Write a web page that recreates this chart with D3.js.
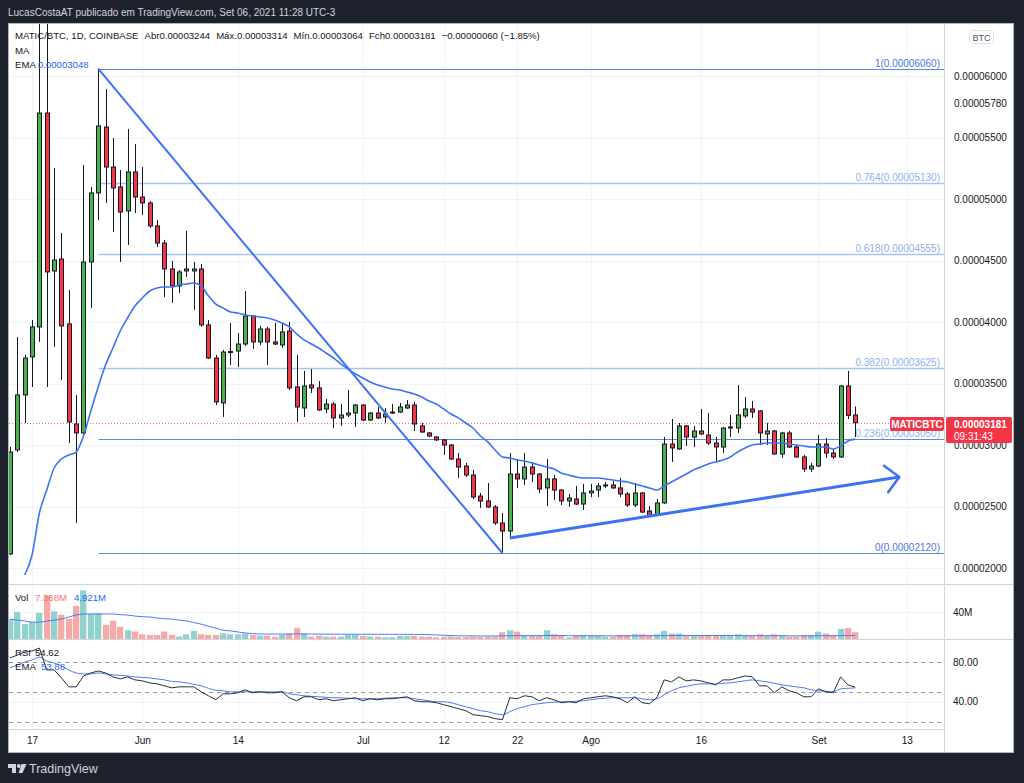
<!DOCTYPE html>
<html lang="pt">
<head>
<meta charset="UTF-8">
<title>MATIC/BTC</title>
<script src="https://d3js.org/d3.v7.min.js"></script>
<style>
  html, body { margin: 0; padding: 0; background: #1e222d; }
  svg { display: block; font-family: "Liberation Sans", Arial, sans-serif; }
</style>
</head>
<body>
<svg id="chart" width="1024" height="783"></svg>
<script>
// daily candles from 2021-05-14 to 2021-09-06, prices in satoshi (1e-8 BTC)
const startDay = Date.UTC(2021, 4, 14);
const open = [2114,2960,3407,3716,3960,5699,4415,4512,3984,3171,
  3098,4488,5049,5585,5260,5098,4903,5220,5016,4968,
  4781,4642,4431,4293,4415,4415,4431,3976,3707,3342,
  3756,3764,3821,4049,3838,3943,3838,3813,3927,3472,
  3301,3488,3464,3293,3333,3220,3244,3260,3325,3203,
  3260,3228,3260,3268,3301,3325,3155,3098,3065,3041,
  3000,2886,2829,2756,2585,2545,2496,2366,2301,2764,
  2724,2821,2764,2651,2724,2634,2545,2561,2520,2610,
  2634,2667,2675,2651,2602,2512,2610,2463,2431,2529,
  3008,2968,3155,3065,3114,3081,3016,2984,3138,3138,
  3236,3293,3277,3090,3114,2927,3098,2984,2903,2805,
  2829,3008,2935,2903,3480,3244];
const high = [2984,3878,3732,4016,6700,6700,5252,4724,4260,3407,
  5277,5098,6060,5894,5496,5236,5569,5447,5260,4984,
  4829,4667,4496,4423,4740,4488,4472,4016,3732,3773,
  3992,3911,4252,4057,3968,3960,3992,3992,4000,3732,
  3602,3618,3520,3374,3350,3333,3447,3333,3333,3268,
  3309,3301,3333,3342,3366,3350,3179,3106,3073,3049,
  3008,2935,2854,2797,2610,2691,2512,2447,2935,2886,
  2935,2862,2772,2886,2756,2642,2602,2667,2683,2683,
  2691,2699,2707,2732,2618,2691,2618,2504,2561,3065,
  3212,3179,3163,3155,3293,3260,3065,3147,3244,3488,
  3390,3358,3285,3179,3122,3106,3114,3000,2919,2854,
  3081,3057,2968,3488,3602,3314];
const low = [2106,2943,3179,3472,3838,3472,3797,3529,3016,2366,
  3073,4114,4829,4968,4732,4488,4626,4886,4870,4764,
  4610,4203,4155,4236,4366,4098,3960,3699,3325,3228,
  3650,3634,3805,3781,3813,3650,3813,3789,3447,3187,
  3228,3423,3277,3260,3138,3155,3228,3147,3195,3195,
  3211,3179,3252,3260,3293,3114,3098,3065,3033,2919,
  2878,2732,2740,2561,2488,2488,2350,2120,2252,2651,
  2675,2699,2610,2504,2553,2512,2496,2512,2472,2577,
  2577,2651,2642,2577,2496,2496,2447,2415,2423,2520,
  2862,2960,2992,2984,3081,3000,2870,2935,3065,3098,
  3220,3220,3000,3000,2919,2895,2976,2895,2781,2781,
  2821,2895,2886,2895,3211,3064];
const close = [2943,3407,3707,3960,5699,4407,4504,3968,3187,3098,
  4488,5049,5594,5260,5090,4894,5220,5016,4968,4781,
  4642,4431,4293,4407,4431,4431,3976,3707,3350,3756,
  3760,3821,4049,3838,3943,3838,3821,3919,3464,3309,
  3480,3464,3285,3333,3220,3244,3260,3325,3203,3260,
  3220,3252,3268,3309,3325,3171,3106,3073,3041,3000,
  2886,2821,2756,2577,2545,2496,2366,2301,2764,2724,
  2821,2764,2642,2724,2634,2545,2569,2520,2610,2626,
  2667,2675,2651,2602,2512,2610,2455,2423,2529,3008,
  2976,3155,3065,3114,3090,3016,2984,3138,3147,3244,
  3293,3268,3098,3114,2927,3098,2984,2903,2805,2829,
  3008,2935,2903,3480,3241,3181];
// EMA of price (first two days not drawn)
const ema = [null,null,1943,2106,2447,2634,2813,2886,2919,2943,3073,3277,
  3472,3650,3789,3927,4033,4130,4195,4252,4277,4285,
  4285,4301,4309,4317,4293,4212,4146,4114,4081,4073,
  4057,4049,4041,4033,4016,3992,3960,3903,3854,3821,
  3789,3748,3708,3659,3618,3577,3545,3512,3488,3472,
  3455,3447,3431,3415,3390,3358,3333,3293,3252,3220,
  3179,3138,3073,3025,2959,2903,2894,2878,2870,2854,
  2838,2821,2805,2773,2756,2740,2732,2732,2732,2724,
  2716,2707,2699,2683,2667,2651,2634,2667,2699,2732,
  2764,2797,2821,2846,2862,2878,2903,2943,2976,3000,
  3008,3016,3016,3016,3008,3000,2992,2984,2984,2984,
  2968,2992,3033,3048];
// volume, millions
const volume = [29.6,40,22,25,38.5,64,41,36,30,49,
  72,37,38,21,27,18,13,11,7,6,
  6,11,6,3.5,7,12,7,6,6,8.5,
  7,7,8,6,5,5,3.5,6,8,16,
  8,3.5,5,3.5,3.5,3.5,6,6,4.5,3.5,
  3.5,2.5,2.5,4.5,4.5,4.5,3.5,3.5,2.5,3.5,
  3.5,3,3,3.5,3,3.5,3.5,10,13,11,
  5,5,5,13,7,6,2.5,5,6,6,
  4.5,3.5,3.5,6,6,7,7,6,7,12,
  8,8,6,5,6,6,6,6,4.5,7,
  4.5,4.5,7,4.5,7,5,3.5,3.5,6,6,
  11,8,6,15,16,10];
const volumeMa = [29.6,28,26.7,25,25,26.5,28,29.6,32.6,35.5,
  37,37,37,37,37,36,35.5,34,33,32.6,
  31,30,29.6,28,26.7,24.5,22,19,16,13,
  12,10.4,9,8,7.4,7.4,7.3,7.3,7.4,7.6,
  7.5,7.4,7.3,7.2,7.2,7.1,7.1,7.1,7,7,
  7,6.9,6.9,6.9,6.9,6.8,6.8,6.5,6,5.5,
  5,4.8,4.7,4.6,4.5,4.5,4.5,4.6,4.8,5,
  5,5,5,5.2,5.1,5.1,5,4.9,4.9,4.8,
  4.8,4.7,4.7,4.7,4.7,4.8,4.8,4.8,4.8,5,
  5.1,5.2,5.2,5.2,5.2,5.2,5.2,5.2,5.1,5.1,
  5,5,5,4.9,4.9,4.8,4.7,4.6,4.6,4.6,
  4.7,4.8,4.8,5,5.1,4.921];
const rsi = [84,87,90,91,94,72,72,64,55,55,
  66,69,71,69,65,63,65,62,61,59,
  58,56,54,55,55,55,50,46,42,48,
  48,49,52,49,50,49,49,50,44,41,
  45,45,42,43,41,42,43,44,41,43,
  42,43,43,44,45,41,40,40,39,37,
  35,33,31,27,26,25,23,22,44,43,
  46,45,41,44,42,39,40,39,43,44,
  45,46,45,43,39,45,39,38,44,62,
  60,65,61,62,61,59,57,62,62,64,
  66,65,56,56,49,55,51,49,45,45,
  53,50,49,65,57,54.62];
const rsiEma = [74,77,80,82,85,81,79,76,72,69,
  68,68,69,68,67,66.5,66,65,64.5,64,
  63,62,60.5,60,59,57.5,56,53.5,51.5,51,
  50,50,50,50,50,50,50,50,48,47,
  46,45.5,45,44.5,44,44,43.5,43,43,43,
  43,43.5,44,44,44,43,42,41,40,40,
  39,37,35,33,31,30,28,27,30,33,
  35,37,38,39,39.5,40,40,40.5,41,42,
  43,43.5,44,44,44,44,43,42,43,47,
  51,54,55.5,57,58,58,58,58.5,59,60,
  61,62,61,60,58.5,57,56,55,54,52,
  51,50.5,50,53,53.5,53.88];

const priceTicks = [6000, 5780, 5500, 5000, 4500, 4000, 3500, 3000, 2500, 2000];
const gridPrices = [6000, 5500, 5000, 4500, 4000, 3500, 3000, 2500, 2000];
const timeTicks = ["2021-05-17","2021-06-01","2021-06-14","2021-07-01","2021-07-12","2021-07-22","2021-08-01","2021-08-16","2021-09-01","2021-09-13"];
const timeLabels = ["17","Jun","14","Jul","12","22","Ago","16","Set","13"];

const fibLevels = ["1", "0.764", "0.618", "0.382", "0.236", "0"];
const fibPrices = [6060, 5130, 4555, 3625, 3050, 2120];
const fibStart = "2021-05-26";

const downLine = [["2021-05-26", 6060], ["2021-07-20", 2120]];
const upLine = [["2021-07-21", 2244], ["2021-09-12", 2740]];

const svg = d3.select("#chart");
const day = d => new Date(d + "T00:00:00Z");
const dates = open.map((_, i) => new Date(startDay + i * 864e5));
const candles = dates.map((d, i) => ({ date: d, o: open[i], h: high[i], l: low[i], c: close[i], v: volume[i] }));

const left = 9, right = 944;
const x = d3.scaleUtc().domain([new Date(startDay), day("2021-09-13")]).range([10, 10 + 122 * 7.35]);
const y = d3.scaleLinear().domain([2000, 6000]).range([568, 76]);
const yVol = d3.scaleLinear().domain([0, 40]).range([639, 612]);
const yRsi = d3.scaleLinear().domain([20, 80]).range([721.6, 662]);
const fmtPrice = v => (v * 1e-8).toFixed(8);
const px = d => Math.round(x(d)) + 0.5;

const upColor = "#4caf50", downColor = "#f23645", blue = "#2962ff", ink = "#131722";

// frame
svg.append("text").attr("x", 8).attr("y", 16).attr("fill", "#d1d4dc").style("font-size", "10px")
  .text("LucasCostaAT publicado em TradingView.com, Set 06, 2021 11:28 UTC-3");
svg.append("rect").attr("x", 8.5).attr("y", 23.5).attr("width", 1005).attr("height", 729)
  .attr("fill", "#fff").attr("stroke", "#b2b5be");

const defs = svg.append("defs");
function clip(id, y0, h) {
  defs.append("clipPath").attr("id", id).append("rect").attr("x", left).attr("y", y0).attr("width", right - left).attr("height", h);
}
clip("cMain", 24, 560); clip("cVol", 585, 54); clip("cRsi", 640, 89);

// grid
const grid = svg.append("g").attr("stroke", "#f0f3fa").attr("stroke-width", 1);
grid.selectAll(".gx").data(timeTicks).join("line")
  .attr("x1", d => px(day(d))).attr("x2", d => px(day(d))).attr("y1", 24).attr("y2", 729);
grid.selectAll(".gy").data(gridPrices).join("line")
  .attr("x1", left).attr("x2", right).attr("y1", d => Math.round(y(d)) + 0.5).attr("y2", d => Math.round(y(d)) + 0.5);
grid.append("line").attr("x1", left).attr("x2", right).attr("y1", Math.round(yVol(40)) + 0.5).attr("y2", Math.round(yVol(40)) + 0.5);
grid.append("line").attr("x1", left).attr("x2", right).attr("y1", Math.round(yRsi(40)) + 0.5).attr("y2", Math.round(yRsi(40)) + 0.5);

// pane separators
const sep = svg.append("g").attr("stroke", "#d1d4dc").attr("stroke-width", 1);
sep.append("line").attr("x1", right + 0.5).attr("x2", right + 0.5).attr("y1", 24).attr("y2", 752);
[584.5, 639.5].forEach(v => sep.append("line").attr("x1", left).attr("x2", 1013).attr("y1", v).attr("y2", v));
sep.append("line").attr("x1", left).attr("x2", right).attr("y1", 729.5).attr("y2", 729.5);

// main pane
const main = svg.append("g").attr("clip-path", "url(#cMain)");

// fibonacci retracement
const fibStrong = [true, false, false, false, true, true];
fibPrices.forEach((p, i) => {
  const yy = Math.round(y(p)) + 0.5;
  main.append("line").attr("x1", px(day(fibStart))).attr("x2", right).attr("y1", yy).attr("y2", yy)
    .attr("stroke", fibStrong[i] ? "#5b86ee" : "#a9c3f8").attr("stroke-width", fibStrong[i] ? 1 : 1.5);
  main.append("text").attr("x", 940).attr("y", yy - 3).attr("text-anchor", "end")
    .attr("fill", (i === 0 || i === 5) ? "#4a78e0" : "#8fb0f2").style("font-size", "10px")
    .text(`${fibLevels[i]}(${fmtPrice(p)})`);
});

// last price line
const yLast = Math.round(y(close[close.length - 1])) + 0.5;
main.append("line").attr("x1", left).attr("x2", right).attr("y1", yLast).attr("y2", yLast)
  .attr("stroke", downColor).attr("stroke-dasharray", "1,2").attr("opacity", 0.7);

// candles
const cg = main.append("g");
cg.selectAll(".wick").data(candles).join("line")
  .attr("x1", d => px(d.date)).attr("x2", d => px(d.date))
  .attr("y1", d => y(d.h)).attr("y2", d => y(d.l))
  .attr("stroke", ink).attr("stroke-width", 1);
cg.selectAll(".body").data(candles).join("rect")
  .attr("x", d => px(d.date) - 2).attr("width", 4)
  .attr("y", d => y(Math.max(d.o, d.c))).attr("height", d => Math.max(1, Math.abs(y(d.o) - y(d.c))))
  .attr("fill", d => d.c >= d.o ? upColor : downColor)
  .attr("stroke", ink).attr("stroke-width", 1);

// EMA
const emaLine = d3.line().defined(d => d[1] !== null).x(d => x(d[0])).y(d => y(d[1])).curve(d3.curveMonotoneX);
main.append("path").datum(dates.map((d, i) => [d, ema[i]])).attr("d", emaLine)
  .attr("fill", "none").attr("stroke", "#3d72f5").attr("stroke-width", 1.6);

// drawn trend lines
function seg(pts) { return pts.map(p => [x(day(p[0])), y(p[1])]); }
const dl = seg(downLine), ul = seg(upLine);
main.append("line").attr("x1", dl[0][0]).attr("y1", dl[0][1]).attr("x2", dl[1][0]).attr("y2", dl[1][1])
  .attr("stroke", "#3d72f5").attr("stroke-width", 2);
main.append("line").attr("x1", ul[0][0]).attr("y1", ul[0][1]).attr("x2", ul[1][0]).attr("y2", ul[1][1])
  .attr("stroke", "#3d72f5").attr("stroke-width", 3);
const ang = Math.atan2(ul[0][1] - ul[1][1], ul[0][0] - ul[1][0]);
const arm = 19, spread = Math.PI / 4;
main.append("path")
  .attr("d", `M${ul[1][0] + arm * Math.cos(ang - spread)},${ul[1][1] + arm * Math.sin(ang - spread)}L${ul[1][0]},${ul[1][1]}L${ul[1][0] + arm * Math.cos(ang + spread)},${ul[1][1] + arm * Math.sin(ang + spread)}`)
  .attr("fill", "none").attr("stroke", "#3d72f5").attr("stroke-width", 2.5).attr("stroke-linecap", "round").attr("stroke-linejoin", "round");

// volume pane
const vol = svg.append("g").attr("clip-path", "url(#cVol)");
vol.selectAll("rect").data(candles).join("rect")
  .attr("x", d => px(d.date) - 3.5).attr("width", 6.3)
  .attr("y", d => yVol(d.v)).attr("height", d => yVol(0) - yVol(d.v))
  .attr("fill", d => d.c >= d.o ? "#92d2cc" : "#f7a9a7");
vol.append("path").datum(dates.map((d, i) => [d, volumeMa[i]]))
  .attr("d", d3.line().x(d => x(d[0])).y(d => yVol(d[1])).curve(d3.curveMonotoneX))
  .attr("fill", "none").attr("stroke", "#4a7bf7").attr("stroke-width", 1);

// RSI pane
const rp = svg.append("g").attr("clip-path", "url(#cRsi)");
[80, 50, 20].forEach(v => rp.append("line").attr("x1", left).attr("x2", right)
  .attr("y1", Math.round(yRsi(v)) + 0.5).attr("y2", Math.round(yRsi(v)) + 0.5)
  .attr("stroke", "#9598a1").attr("stroke-dasharray", "4,4"));
rp.append("path").datum(dates.map((d, i) => [d, rsiEma[i]]))
  .attr("d", d3.line().x(d => x(d[0])).y(d => yRsi(d[1])).curve(d3.curveMonotoneX))
  .attr("fill", "none").attr("stroke", "#4a7bf7").attr("stroke-width", 1);
rp.append("path").datum(dates.map((d, i) => [d, rsi[i]]))
  .attr("d", d3.line().x(d => x(d[0])).y(d => yRsi(d[1])))
  .attr("fill", "none").attr("stroke", "#2a2e39").attr("stroke-width", 1);

// axes
function styleAxis(g) {
  g.select(".domain").remove();
  g.selectAll("text").attr("fill", ink).style("font-size", "10px").style("font-family", "'Liberation Sans', Arial, sans-serif");
}
svg.append("g").attr("transform", `translate(${right},0)`)
  .call(d3.axisRight(y).tickValues(priceTicks).tickSize(0).tickPadding(10).tickFormat(fmtPrice)).call(styleAxis);
svg.append("g").attr("transform", `translate(${right},0)`)
  .call(d3.axisRight(yVol).tickValues([40]).tickSize(0).tickPadding(9).tickFormat(d => d + "M")).call(styleAxis);
svg.append("g").attr("transform", `translate(${right},0)`)
  .call(d3.axisRight(yRsi).tickValues([80, 40]).tickSize(0).tickPadding(9).tickFormat(d3.format(".2f"))).call(styleAxis);
svg.append("g").attr("transform", "translate(0,729)")
  .call(d3.axisBottom(x).tickValues(timeTicks.map(day)).tickSize(0).tickPadding(8).tickFormat((d, i) => timeLabels[i])).call(styleAxis);

// BTC unit box
svg.append("rect").attr("x", 969.5).attr("y", 30.5).attr("width", 24).attr("height", 13).attr("rx", 3)
  .attr("fill", "#fff").attr("stroke", "#e0e3eb");
svg.append("text").attr("x", 981.5).attr("y", 40.5).attr("text-anchor", "middle").attr("fill", "#50535e")
  .style("font-size", "9px").text("BTC");

// last price labels
svg.append("rect").attr("x", 890).attr("y", 417).attr("width", 54).attr("height", 14).attr("rx", 2).attr("fill", downColor);
svg.append("text").attr("x", 917).attr("y", 427.5).attr("text-anchor", "middle").attr("fill", "#fff")
  .style("font-size", "10px").style("font-weight", "bold").text("MATICBTC");
svg.append("rect").attr("x", 946).attr("y", 417).attr("width", 66).attr("height", 26).attr("rx", 2).attr("fill", downColor);
svg.append("text").attr("x", 954).attr("y", 427.5).attr("fill", "#fff").style("font-size", "10px").style("font-weight", "bold")
  .text(fmtPrice(close[close.length - 1]));
svg.append("text").attr("x", 954).attr("y", 439.5).attr("fill", "#fff").style("font-size", "10px").text("09:31:43");

// legends
const lg = svg.append("g").style("font-size", "9.6px").attr("fill", ink);
const last = candles[candles.length - 1];
const chg = last.c - candles[candles.length - 2].c;
const pct = chg / candles[candles.length - 2].c * 100;
const headParts = ["MATIC/BTC, 1D, COINBASE", "Abr" + fmtPrice(last.o), "Máx." + fmtPrice(last.h),
  "Mín." + fmtPrice(last.l), "Fch" + fmtPrice(last.c), `\u2212${fmtPrice(-chg)} (\u2212${Math.abs(pct).toFixed(2)}%)`];
let hx = 15;
headParts.forEach(t => {
  const node = lg.append("text").attr("x", hx).attr("y", 39).text(t);
  hx += node.node().getComputedTextLength() + 6;
});
lg.append("text").attr("x", 15).attr("y", 54).text("MA");
const emaT = lg.append("text").attr("x", 15).attr("y", 68);
emaT.append("tspan").text("EMA ");
emaT.append("tspan").attr("fill", blue).text(fmtPrice(ema[ema.length - 1]));

const vT = lg.append("text").attr("y", 601);
vT.append("tspan").attr("x", 15).text("Vol");
vT.append("tspan").attr("x", 35).attr("fill", "#f7727a").text("7.368M");
vT.append("tspan").attr("x", 74).attr("fill", blue).text("4.921M");
const rT = lg.append("text").attr("y", 656);
rT.append("tspan").attr("x", 15).text("RSI");
rT.append("tspan").attr("x", 35).text(rsi[rsi.length - 1].toFixed(2));
const reT = lg.append("text").attr("y", 670);
reT.append("tspan").attr("x", 15).text("EMA");
reT.append("tspan").attr("x", 41).attr("fill", blue).text(rsiEma[rsiEma.length - 1].toFixed(2));

// TradingView mark
const tv = svg.append("g").attr("fill", "#d1d4dc");
tv.append("path").attr("d", "M8,764h8v9h-4v-5h-4z");
tv.append("circle").attr("cx", 18.8).attr("cy", 766).attr("r", 1.9);
tv.append("path").attr("d", "M21.5,764h5l-4,9h-4z");
tv.append("text").attr("x", 29).attr("y", 773).style("font-size", "12.5px").text("TradingView");
</script>
</body>
</html>
